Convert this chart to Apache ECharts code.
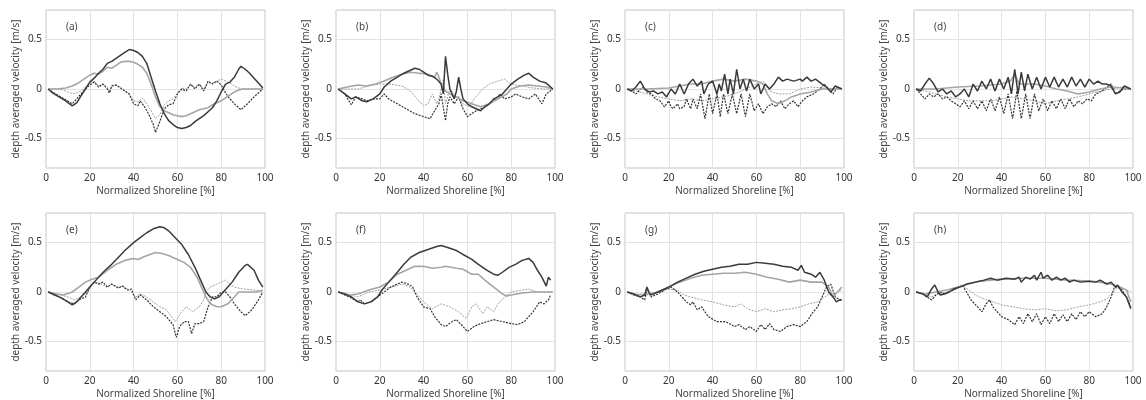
<!DOCTYPE html>
<html><head><meta charset="utf-8">
<script src="https://cdn.jsdelivr.net/npm/echarts@6/dist/echarts.min.js"></script>
<style>html,body{margin:0;padding:0;background:#fff}#c{width:1146px;height:400px}</style>
</head><body><div id="c"></div>
<script>
const panelLabels = ['(a)','(b)','(c)','(d)','(e)','(f)','(g)','(h)'];
const yTitle = 'depth averaged velocity [m/s]';
const xTitle = 'Normalized Shoreline [%]';
const yTickValues = [-0.5, 0, 0.5];

const a_dark = [[1,0],[3,-0.04],[6,-0.08],[9,-0.12],[12,-0.17],[14,-0.14],[16,-0.07],[18,0.0],[20,0.07],[22,0.11],[24,0.16],[26,0.2],[28,0.26],[30,0.28],[32,0.31],[34,0.34],[36,0.37],[38,0.4],[40,0.39],[42,0.37],[44,0.33],[46,0.26],[48,0.12],[50,-0.02],[52,-0.15],[54,-0.25],[56,-0.32],[58,-0.36],[60,-0.39],[62,-0.4],[64,-0.39],[66,-0.37],[68,-0.33],[70,-0.3],[72,-0.27],[74,-0.23],[76,-0.19],[78,-0.12],[80,-0.03],[82,0.05],[84,0.07],[86,0.12],[88,0.2],[89,0.23],[91,0.2],[93,0.16],[95,0.11],[97,0.06],[99,0.01]];
const a_gray = [[1,0],[5,0],[9,0.01],[12,0.03],[14,0.05],[16,0.08],[18,0.11],[20,0.14],[22,0.16],[24,0.15],[26,0.18],[28,0.22],[30,0.21],[32,0.24],[34,0.27],[36,0.28],[38,0.28],[40,0.27],[42,0.25],[44,0.22],[46,0.16],[48,0.05],[50,-0.08],[52,-0.18],[54,-0.22],[56,-0.24],[58,-0.26],[60,-0.27],[62,-0.28],[64,-0.27],[66,-0.25],[68,-0.23],[70,-0.21],[72,-0.2],[74,-0.19],[76,-0.16],[78,-0.14],[80,-0.12],[82,-0.09],[84,-0.06],[86,-0.03],[88,-0.01],[90,0],[95,0],[99,0]];
const a_dot = [[1,0],[3,-0.03],[6,-0.07],[9,-0.11],[12,-0.15],[14,-0.1],[16,-0.05],[18,0.0],[20,0.04],[22,0.07],[24,0.02],[26,0.05],[28,0.0],[29,-0.04],[30,0.03],[32,0.04],[34,0.01],[36,-0.02],[38,-0.05],[40,-0.15],[42,-0.17],[43,-0.12],[45,-0.18],[47,-0.26],[49,-0.36],[50,-0.44],[52,-0.33],[54,-0.2],[56,-0.16],[58,-0.15],[60,-0.05],[62,0.0],[64,-0.02],[66,0.05],[68,0.0],[70,0.05],[72,-0.02],[74,0.08],[76,0.05],[78,0.08],[80,0.04],[82,-0.04],[84,-0.1],[86,-0.15],[89,-0.21],[92,-0.15],[95,-0.08],[97,-0.04],[99,0.0]];
const a_dotgray = [[1,0],[6,0],[8,-0.01],[10,-0.03],[12,-0.05],[14,-0.04],[16,-0.02],[18,0.02],[20,0.06],[22,0.08],[24,0.03],[26,0.05],[28,0.02],[29,-0.03],[30,0.04],[32,0.04],[34,0.02],[36,-0.02],[38,-0.05],[40,-0.12],[42,-0.13],[44,-0.09],[46,-0.15],[48,-0.22],[50,-0.3],[52,-0.26],[54,-0.16],[56,-0.12],[58,-0.1],[60,-0.04],[62,0.01],[64,0.0],[66,0.04],[68,0.02],[70,0.05],[72,0.0],[74,0.06],[76,0.06],[78,0.08],[80,0.1],[82,0.08],[84,0.06],[86,0.03],[88,0.01],[90,0],[99,0]];

const b_dark = [[1,0],[4,-0.05],[7,-0.1],[9,-0.08],[12,-0.12],[14,-0.13],[17,-0.1],[20,-0.05],[22,0.02],[25,0.08],[28,0.12],[31,0.16],[34,0.19],[36,0.21],[38,0.2],[40,0.17],[42,0.14],[44,0.13],[46,0.1],[48,0.05],[49,-0.05],[50,0.33],[51,0.15],[52,0.0],[54,-0.1],[55,-0.02],[56,0.12],[57,0.0],[58,-0.1],[60,-0.15],[62,-0.18],[64,-0.2],[66,-0.22],[68,-0.18],[70,-0.15],[72,-0.1],[74,-0.08],[76,-0.05],[78,0.0],[80,0.05],[83,0.1],[86,0.14],[88,0.16],[90,0.12],[93,0.08],[96,0.06],[99,0.0]];
const b_gray = [[1,0],[5,0.02],[10,0.04],[14,0.03],[18,0.05],[22,0.08],[26,0.12],[30,0.15],[34,0.17],[38,0.16],[42,0.15],[45,0.12],[46,0.17],[47,0.12],[48,0.05],[50,-0.02],[52,-0.05],[55,-0.08],[58,-0.12],[62,-0.15],[66,-0.18],[70,-0.15],[74,-0.1],[78,-0.05],[80,0.0],[84,0.03],[88,0.04],[92,0.03],[96,0.02],[99,0]];
const b_dot = [[1,0],[4,-0.05],[7,-0.16],[9,-0.08],[12,-0.1],[14,-0.12],[17,-0.1],[20,-0.1],[22,-0.05],[24,-0.1],[28,-0.15],[32,-0.2],[36,-0.25],[40,-0.28],[43,-0.3],[45,-0.22],[47,-0.15],[48,-0.05],[50,-0.32],[51,-0.15],[52,-0.08],[54,-0.15],[56,-0.08],[58,-0.2],[60,-0.28],[62,-0.25],[64,-0.22],[66,-0.2],[68,-0.18],[70,-0.15],[72,-0.12],[75,-0.05],[77,-0.1],[80,-0.08],[82,-0.05],[85,-0.08],[88,-0.1],[91,-0.05],[94,-0.15],[96,-0.05],[99,0]];
const b_dotgray = [[1,0],[10,0],[15,0.03],[20,0.05],[25,0.05],[30,0.03],[34,-0.02],[37,-0.1],[40,-0.17],[42,-0.15],[44,-0.05],[46,-0.15],[47,-0.1],[48,0.0],[49,0.1],[50,-0.15],[52,0.0],[54,-0.05],[56,-0.1],[58,-0.15],[61,-0.18],[63,-0.1],[65,-0.05],[67,0.0],[70,0.05],[74,0.08],[77,0.1],[80,0.05],[85,0.03],[90,0.01],[95,0],[99,0]];

const c_dark = [[1,0],[3,-0.02],[5,0.02],[7,0.08],[9,0.0],[11,-0.03],[13,-0.02],[15,-0.05],[17,-0.03],[19,-0.08],[21,0.0],[23,-0.05],[25,0.05],[27,-0.05],[29,0.05],[31,0.1],[33,0.03],[35,0.08],[36,-0.05],[38,0.05],[40,0.08],[42,-0.05],[43,0.05],[44,-0.02],[45.5,0.15],[47,-0.05],[48,0.1],[49.5,-0.05],[51,0.2],[52.5,0.0],[54,0.1],[55.5,-0.02],[57,0.1],[59,0.0],[61,0.05],[62,-0.05],[64,0.05],[66,0.0],[68,0.05],[70,0.12],[72,0.08],[74,0.1],[77,0.08],[80,0.1],[81,0.08],[83,0.12],[85,0.08],[87,0.1],[90,0.05],[92,0.02],[94,-0.03],[96,0.03],[99,0]];
const c_gray = [[1,0],[10,0],[20,0.01],[25,0.03],[30,0.05],[35,0.05],[40,0.08],[45,0.1],[50,0.08],[55,0.1],[60,0.08],[63,0.05],[65,-0.05],[67,-0.12],[70,-0.15],[73,-0.12],[76,-0.08],[80,-0.05],[85,-0.03],[90,0],[99,0]];
const c_dot = [[1,0],[3,-0.02],[5,-0.05],[8,0.02],[10,-0.03],[12,-0.05],[14,-0.1],[16,-0.12],[18,-0.18],[20,-0.12],[21,-0.18],[22,-0.2],[24,-0.15],[25,-0.2],[27,-0.18],[28,-0.1],[30,-0.2],[31,-0.1],[33,-0.2],[34.5,-0.05],[36.5,-0.3],[38.5,-0.05],[40,-0.25],[42,-0.05],[43.5,-0.28],[45,-0.05],[47,-0.25],[49,-0.05],[51,-0.25],[53,-0.05],[55,-0.28],[57,-0.05],[59,-0.22],[61,-0.15],[63,-0.25],[65,-0.18],[67,-0.15],[69,-0.18],[71,-0.12],[73,-0.2],[75,-0.15],[77,-0.12],[79,-0.18],[81,-0.12],[83,-0.08],[86,-0.05],[89,0.0],[91,0.05],[93,0.0],[95,-0.05],[97,0.02],[99,0]];
const c_dotgray = [[1,0],[5,-0.02],[10,-0.05],[15,-0.08],[20,-0.1],[25,-0.12],[30,-0.1],[35,-0.12],[40,-0.1],[45,-0.08],[50,-0.05],[55,0.0],[60,0.05],[63,0.08],[66,-0.02],[70,-0.05],[75,-0.05],[80,0.0],[85,0.02],[90,0.01],[99,0]];

const d_dark = [[1,0],[3,-0.02],[5,0.05],[7,0.11],[9,0.05],[11,-0.03],[13,0.0],[15,-0.05],[17,-0.02],[19,-0.08],[21,-0.05],[23,0.0],[25,-0.08],[27,0.05],[29,-0.02],[31,0.08],[33,0.0],[35,0.1],[37,-0.02],[39,0.1],[41,0.0],[43,0.12],[44.5,-0.05],[46,0.2],[47.5,-0.05],[49,0.17],[50.5,-0.02],[52,0.15],[54,0.0],[56,0.12],[58,0.0],[60,0.12],[62,0.02],[64,0.12],[66,0.02],[68,0.1],[70,0.02],[72,0.12],[74,0.03],[76,0.1],[78,0.02],[80,0.1],[82,0.05],[84,0.08],[86,0.05],[88,0.05],[90,0.03],[92,-0.05],[94,-0.03],[96,0.03],[98,0.01],[99,0]];
const d_gray = [[1,0],[10,0],[20,0.02],[30,0.03],[40,0.05],[44,0.08],[46,0.15],[48,0.05],[55,0.05],[60,0.03],[65,0.0],[70,-0.02],[75,-0.05],[80,-0.03],[85,0.0],[90,0.02],[95,0.01],[99,0]];
const d_dot = [[1,0],[3,-0.05],[5,-0.1],[7,-0.05],[9,-0.08],[11,-0.05],[13,-0.1],[15,-0.08],[17,-0.12],[19,-0.15],[21,-0.18],[23,-0.12],[25,-0.2],[27,-0.12],[29,-0.2],[31,-0.12],[33,-0.22],[35,-0.1],[37,-0.22],[39,-0.08],[41,-0.25],[43,-0.05],[45,-0.3],[47,-0.02],[49,-0.3],[51,-0.05],[53,-0.3],[55,-0.05],[57,-0.22],[59,-0.1],[61,-0.22],[63,-0.12],[65,-0.2],[67,-0.1],[69,-0.2],[71,-0.1],[73,-0.18],[75,-0.12],[77,-0.15],[79,-0.1],[81,-0.12],[83,-0.05],[86,-0.02],[88,0.02],[90,0.05],[92,-0.05],[94,-0.02],[96,0.0],[99,0]];
const d_dotgray = [[1,0],[5,-0.02],[10,-0.05],[15,-0.08],[20,-0.1],[25,-0.12],[30,-0.12],[35,-0.12],[40,-0.1],[45,-0.08],[50,-0.1],[55,-0.12],[60,-0.15],[65,-0.12],[70,-0.1],[75,-0.08],[80,-0.05],[85,-0.02],[90,0.0],[95,0.02],[99,0]];

const e_dark = [[1,0],[4,-0.03],[7,-0.06],[10,-0.1],[12,-0.13],[14,-0.1],[16,-0.05],[18,0.0],[20,0.05],[22,0.1],[24,0.15],[27,0.22],[30,0.28],[33,0.35],[36,0.42],[40,0.5],[43,0.55],[46,0.6],[49,0.64],[52,0.66],[54,0.65],[56,0.62],[59,0.55],[62,0.48],[65,0.38],[68,0.25],[71,0.1],[73,0.0],[75,-0.05],[77,-0.07],[79,-0.05],[81,0.0],[83,0.05],[85,0.1],[88,0.2],[91,0.27],[92,0.28],[95,0.22],[97,0.12],[99,0.05]];
const e_gray = [[1,0],[5,-0.02],[8,-0.03],[12,0.0],[15,0.05],[18,0.1],[21,0.13],[24,0.15],[28,0.22],[32,0.28],[36,0.32],[40,0.34],[42,0.33],[45,0.36],[50,0.4],[53,0.39],[56,0.37],[60,0.33],[63,0.3],[66,0.25],[69,0.15],[71,0.05],[73,-0.05],[75,-0.12],[78,-0.15],[80,-0.15],[83,-0.12],[86,-0.05],[88,0.0],[92,0.0],[96,0.0],[99,0.02]];
const e_dot = [[1,0],[4,-0.03],[7,-0.06],[10,-0.1],[13,-0.12],[15,-0.08],[18,-0.05],[20,0.05],[22,0.1],[24,0.08],[26,0.1],[28,0.05],[30,0.08],[33,0.04],[35,0.06],[37,0.02],[39,0.03],[41,-0.08],[43,-0.03],[46,-0.08],[49,-0.15],[52,-0.2],[55,-0.25],[58,-0.33],[59.5,-0.46],[61,-0.35],[63,-0.3],[65,-0.3],[66.5,-0.42],[68,-0.32],[70,-0.32],[72,-0.3],[74,-0.15],[76,-0.05],[78,-0.05],[80,0.0],[82,0.0],[84,-0.05],[86,-0.12],[89,-0.2],[91,-0.24],[94,-0.18],[97,-0.08],[99,0.0]];
const e_dotgray = [[1,0],[5,-0.02],[10,-0.05],[13,-0.08],[16,-0.05],[19,0.0],[21,0.08],[23,0.1],[25,0.08],[28,0.05],[30,0.08],[33,0.05],[35,0.06],[38,0.02],[41,-0.05],[43,-0.02],[46,-0.05],[49,-0.1],[52,-0.15],[55,-0.18],[59,-0.3],[62,-0.2],[64,-0.15],[67,-0.2],[70,-0.15],[72,-0.08],[73,0.0],[75,0.05],[78,0.08],[80,0.1],[82,0.12],[84,0.08],[86,0.05],[90,0.03],[95,0.02],[99,0.0]];

const f_dark = [[1,0],[4,-0.02],[7,-0.05],[10,-0.1],[13,-0.12],[16,-0.1],[19,-0.05],[21,0.02],[24,0.1],[28,0.2],[31,0.28],[34,0.35],[38,0.4],[42,0.43],[46,0.46],[48,0.47],[51,0.45],[55,0.42],[58,0.38],[62,0.33],[65,0.28],[69,0.22],[72,0.18],[74,0.17],[76,0.2],[79,0.25],[82,0.28],[85,0.32],[88,0.34],[90,0.3],[92,0.22],[94,0.15],[96,0.06],[97,0.15],[98,0.12]];
const f_gray = [[1,0],[6,-0.03],[10,-0.02],[15,0.02],[20,0.05],[24,0.1],[28,0.18],[32,0.22],[36,0.26],[40,0.26],[44,0.24],[48,0.25],[50,0.26],[55,0.24],[58,0.23],[62,0.18],[65,0.18],[68,0.12],[72,0.05],[76,-0.02],[78,-0.04],[80,-0.03],[85,-0.01],[90,0],[99,0]];
const f_dot = [[1,0],[4,-0.03],[7,-0.06],[10,-0.1],[11,-0.08],[13,-0.12],[16,-0.1],[19,-0.05],[22,0.0],[25,0.05],[28,0.08],[30,0.1],[33,0.08],[35,0.05],[37,-0.05],[40,-0.15],[43,-0.17],[45,-0.25],[48,-0.33],[50,-0.35],[53,-0.3],[55,-0.28],[58,-0.35],[60,-0.4],[63,-0.35],[66,-0.32],[69,-0.3],[72,-0.28],[76,-0.3],[80,-0.32],[83,-0.33],[86,-0.3],[90,-0.2],[93,-0.1],[95,-0.12],[97,-0.08],[98,-0.03]];
const f_dotgray = [[1,0],[5,-0.02],[10,-0.05],[15,0.0],[20,0.02],[25,0.05],[30,0.08],[33,0.06],[36,0.0],[40,-0.1],[44,-0.17],[48,-0.12],[52,-0.15],[56,-0.2],[59.5,-0.27],[62,-0.15],[64,-0.12],[67,-0.22],[69,-0.15],[72,-0.2],[74,-0.12],[77,-0.05],[80,0.0],[85,0.02],[88,0.03],[92,0.0],[99,0.0]];

const g_dark = [[1,0],[4,-0.02],[7,-0.05],[9,-0.03],[10,0.05],[11.5,-0.03],[13,-0.02],[15,0.0],[17,0.02],[20,0.05],[24,0.1],[28,0.14],[32,0.18],[36,0.21],[40,0.23],[44,0.25],[48,0.26],[52,0.28],[56,0.28],[60,0.3],[64,0.29],[68,0.28],[72,0.26],[76,0.25],[79,0.22],[80.5,0.27],[82,0.2],[85,0.18],[87,0.15],[89,0.2],[91,0.12],[93,0.0],[95,-0.05],[96.5,-0.1],[98,-0.08],[99,-0.08]];
const g_gray = [[1,0],[5,-0.03],[10,-0.02],[15,0.0],[20,0.05],[25,0.1],[30,0.14],[35,0.17],[40,0.18],[45,0.19],[50,0.19],[55,0.2],[60,0.18],[65,0.15],[70,0.13],[75,0.1],[80,0.12],[85,0.1],[90,0.1],[93,0.05],[95,-0.05],[97,0.0],[99,0.05]];
const g_dot = [[1,0],[4,-0.03],[7,-0.05],[9,-0.08],[10,0.03],[12,-0.05],[15,-0.02],[18,0.02],[21,0.05],[24,0.0],[26,-0.05],[28,-0.1],[30,-0.13],[31,-0.1],[33,-0.18],[35,-0.15],[38,-0.25],[42,-0.3],[46,-0.3],[50,-0.35],[52,-0.33],[55,-0.38],[57,-0.35],[60,-0.4],[62,-0.33],[64,-0.38],[66,-0.32],[68,-0.38],[71,-0.4],[74,-0.35],[77,-0.33],[80,-0.35],[83,-0.3],[86,-0.2],[88,-0.15],[90,-0.05],[92,0.05],[94,0.08],[96,-0.05],[98,-0.08],[99,-0.07]];
const g_dotgray = [[1,0],[5,-0.02],[10,-0.03],[15,0.0],[20,0.03],[24,0.02],[27,-0.03],[30,-0.05],[35,-0.08],[40,-0.1],[45,-0.13],[50,-0.15],[53,-0.12],[56,-0.17],[60,-0.2],[64,-0.17],[68,-0.2],[72,-0.18],[76,-0.17],[80,-0.15],[84,-0.12],[88,-0.1],[90,-0.07],[93,-0.02],[95,-0.05],[97,0.0],[99,0.02]];

const h_dark = [[1,0],[4,-0.02],[6,-0.05],[8,0.03],[9.5,0.07],[11,0.0],[12,-0.03],[14,-0.02],[16,0.0],[18,0.03],[21,0.05],[24,0.08],[28,0.1],[32,0.12],[35,0.14],[38,0.12],[42,0.14],[46,0.13],[48,0.15],[49,0.1],[51,0.15],[53,0.13],[55,0.17],[56,0.12],[58,0.2],[59,0.14],[61,0.17],[63,0.12],[65,0.15],[67,0.12],[69,0.14],[71,0.1],[73,0.12],[76,0.1],[80,0.11],[83,0.1],[85,0.12],[88,0.08],[90,0.1],[92,0.05],[93,0.07],[95,0.0],[97,-0.05],[99,-0.17]];
const h_gray = [[1,0],[5,-0.02],[10,0.0],[15,0.02],[20,0.05],[25,0.08],[30,0.11],[40,0.13],[50,0.14],[60,0.14],[70,0.12],[80,0.11],[85,0.1],[90,0.08],[94,0.05],[97,0.02],[99,-0.1]];
const h_dot = [[1,0],[4,-0.02],[6,-0.05],[8,-0.08],[10,-0.03],[12,0.0],[14,-0.02],[16,0.0],[19,0.03],[22,0.07],[24,0.0],[26,-0.08],[29,-0.15],[31,-0.2],[33,-0.12],[34.5,-0.08],[36,-0.15],[38,-0.2],[40,-0.25],[43,-0.28],[46,-0.33],[48,-0.25],[50,-0.32],[52,-0.22],[54,-0.3],[56,-0.22],[58,-0.33],[60,-0.25],[62,-0.32],[64,-0.22],[66,-0.3],[68,-0.23],[70,-0.3],[72,-0.22],[74,-0.28],[76,-0.2],[78,-0.25],[80,-0.2],[83,-0.25],[86,-0.22],[88,-0.15],[90,-0.05],[91.5,0.05],[93,0.05],[95,0.02],[97,-0.05],[99,-0.15]];
const h_dotgray = [[1,0],[5,-0.02],[8,-0.05],[11,-0.02],[15,0.0],[19,0.03],[22,0.07],[25,0.02],[28,-0.03],[32,-0.07],[36,-0.1],[40,-0.13],[45,-0.15],[50,-0.17],[55,-0.18],[60,-0.17],[65,-0.19],[70,-0.18],[75,-0.15],[80,-0.13],[85,-0.1],[88,-0.07],[91,0.0],[93,0.05],[96,0.03],[99,0.0]];

const panels = [
  [a_dark,a_gray,a_dot,a_dotgray],[b_dark,b_gray,b_dot,b_dotgray],
  [c_dark,c_gray,c_dot,c_dotgray],[d_dark,d_gray,d_dot,d_dotgray],
  [e_dark,e_gray,e_dot,e_dotgray],[f_dark,f_gray,f_dot,f_dotgray],
  [g_dark,g_gray,g_dot,g_dotgray],[h_dark,h_gray,h_dot,h_dotgray]
];

const lineStyles = [
  {color:'#3a3a3a', width:1.5, type:'solid'},
  {color:'#a5a5a5', width:1.6, type:'solid'},
  {color:'#333333', width:1.2, type:[2,1.2]},
  {color:'#a0a0a0', width:1.0, type:[2,1.2]}
];

const lefts = [46, 336, 625, 914];
const tops = [10, 213];
const W = 219, H = 158;
const FONT = 'Noto Sans';

const grid = [], xAxis = [], yAxis = [], series = [], title = [];
for (let i = 0; i < 8; i++) {
  const col = i % 4, row = Math.floor(i / 4);
  grid.push({left: lefts[col], top: tops[row], width: W, height: H, show: true,
    borderColor: '#c4c4c4', borderWidth: 1, backgroundColor: '#fff'});
  xAxis.push({type:'value', gridIndex:i, min:0, max:100, interval:20,
    name: xTitle, nameLocation:'middle', nameGap:18,
    nameTextStyle:{fontFamily:FONT, fontSize:10, color:'#444'},
    axisLine:{show:false, onZero:false}, axisTick:{show:false},
    axisLabel:{fontFamily:FONT, fontSize:10, color:'#333', margin:5},
    splitLine:{show:true, lineStyle:{color:'#e3e3e3', width:1}}});
  yAxis.push({type:'value', gridIndex:i, min:-0.8, max:0.8,
    name: yTitle, nameLocation:'middle', nameGap:25,
    nameTextStyle:{fontFamily:FONT, fontSize:10, color:'#444'},
    axisLine:{show:false},
    axisTick:{show:false, customValues: yTickValues},
    axisLabel:{fontFamily:FONT, fontSize:10, color:'#333', margin:4, customValues: yTickValues},
    splitLine:{show:false}});
  title.push({text: panelLabels[i], left: lefts[col] + 15, top: tops[row] + 7,
    textStyle:{fontFamily:FONT, fontSize:10, fontWeight:'normal', color:'#444'}});
  panels[i].forEach((d, k) => {
    const s = {type:'line', xAxisIndex:i, yAxisIndex:i, data:d, showSymbol:false,
      symbol:'none', lineStyle: lineStyles[k], z: 4 - k, animation:false};
    if (k === 0) {
      s.markLine = {silent:true, symbol:'none', label:{show:false}, z:1,
        lineStyle:{color:'#e3e3e3', width:1, type:'solid'},
        data: yTickValues.map(v => ({yAxis: v}))};
    }
    series.push(s);
  });
}

const chart = echarts.init(document.getElementById('c'), null, {renderer:'canvas'});
chart.setOption({animation:false, title, grid, xAxis, yAxis, series});
</script>
</body></html>
